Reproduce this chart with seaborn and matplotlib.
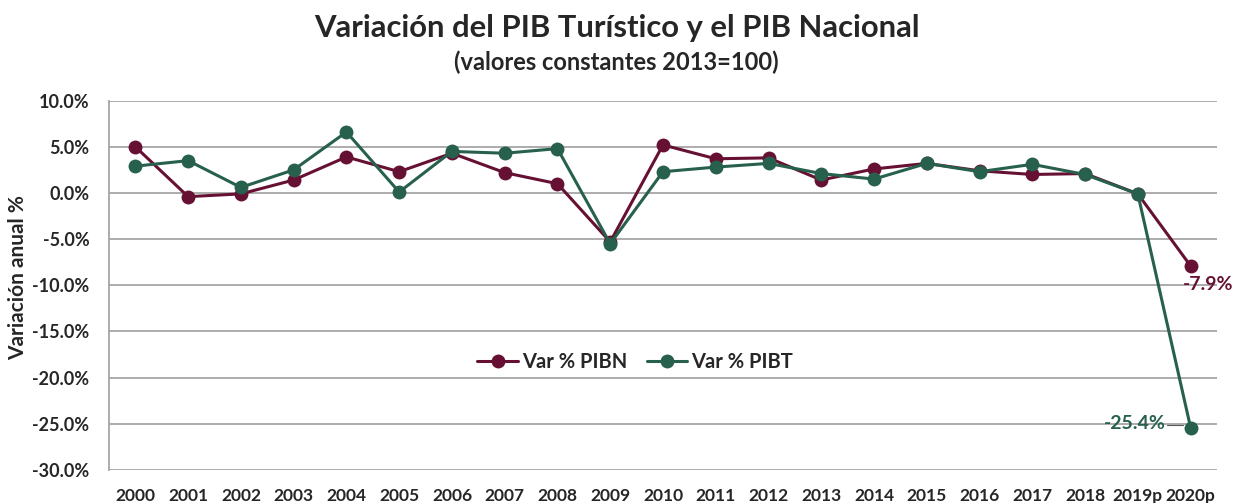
import numpy as np
import pandas as pd
import seaborn as sns
import matplotlib.pyplot as plt
from matplotlib.ticker import FuncFormatter

sns.set_theme(style="white")
plt.rcParams["font.family"] = ["Lato", "DejaVu Sans"]

years = ["2000", "2001", "2002", "2003", "2004", "2005", "2006", "2007", "2008",
         "2009", "2010", "2011", "2012", "2013", "2014", "2015", "2016", "2017",
         "2018", "2019p", "2020p"]
pibn = [5.0, -0.4, -0.1, 1.4, 3.9, 2.3, 4.3, 2.2, 1.0, -5.3, 5.2, 3.7, 3.8,
        1.4, 2.6, 3.2, 2.4, 2.0, 2.1, -0.1, -7.9]
pibt = [2.9, 3.5, 0.6, 2.5, 6.6, 0.1, 4.5, 4.3, 4.8, -5.5, 2.3, 2.8, 3.2,
        2.1, 1.5, 3.2, 2.3, 3.1, 2.0, -0.1, -25.4]

c_n = "#661133"
c_t = "#27604C"

df = pd.DataFrame({
    "year": years * 2,
    "value": pibn + pibt,
    "serie": ["Var % PIBN"] * len(years) + ["Var % PIBT"] * len(years),
})

fig = plt.figure(figsize=(12.33, 5.03), dpi=100)
ax = fig.add_axes([0.0884, 0.0656, 0.8986, 0.7344])

sns.lineplot(
    data=df, x="year", y="value", hue="serie",
    palette={"Var % PIBN": c_n, "Var % PIBT": c_t},
    marker="o", markersize=10, markeredgewidth=0, linewidth=2.2,
    sort=False, ax=ax,
)

ax.set_xlim(-0.5, len(years) - 0.5)
ax.set_ylim(-30, 10)
ax.set_yticks(np.arange(-30, 10.1, 5))
ax.yaxis.set_major_formatter(FuncFormatter(lambda v, p: f"{v:.1f}%"))
ax.grid(axis="y", color="#A6A6A6", linewidth=1.3)
ax.set_axisbelow(True)
for s in ["top", "right", "bottom"]:
    ax.spines[s].set_visible(False)
ax.spines["left"].set_color("#A6A6A6")
ax.spines["left"].set_linewidth(1.3)

ax.tick_params(axis="x", length=0, labelsize=12.5, pad=13)
ax.tick_params(axis="y", length=0, labelsize=13, pad=14)
for lab in ax.get_xticklabels() + ax.get_yticklabels():
    lab.set_fontweight("bold")
ax.set_xlabel("")
ax.set_ylabel("Variación anual %", fontsize=15, fontweight="bold")
ax.yaxis.set_label_coords(-0.073, 0.52)

# data labels for 2020p
last = len(years) - 1
ax.text(last + 0.33, pibn[-1] - 2.0, f"{pibn[-1]:.1f}%", color=c_n,
        fontsize=14, fontweight="bold", ha="center", va="center")
ax.text(last - 1.05, pibt[-1] + 0.4, f"{pibt[-1]:.1f}%", color=c_t,
        fontsize=14, fontweight="bold", ha="center", va="center")
ax.plot([last - 0.45, last - 0.15], [pibt[-1] + 0.3, pibt[-1] + 0.3],
        color="#595959", linewidth=0.8)

leg = ax.legend(loc="center", bbox_to_anchor=(0.475, 0.292), ncol=2, frameon=False,
                fontsize=14.5, handlelength=2.0, columnspacing=1.0, handletextpad=0.2)
for t in leg.get_texts():
    t.set_fontweight("bold")

fig.text(0.5, 0.945, "Variación del PIB Turístico y el PIB Nacional",
         ha="center", va="center", fontsize=22.3, fontweight="bold")
fig.text(0.5, 0.876, "(valores constantes 2013=100)",
         ha="center", va="center", fontsize=17, fontweight="bold")

fig.savefig("out.png", dpi=100)
